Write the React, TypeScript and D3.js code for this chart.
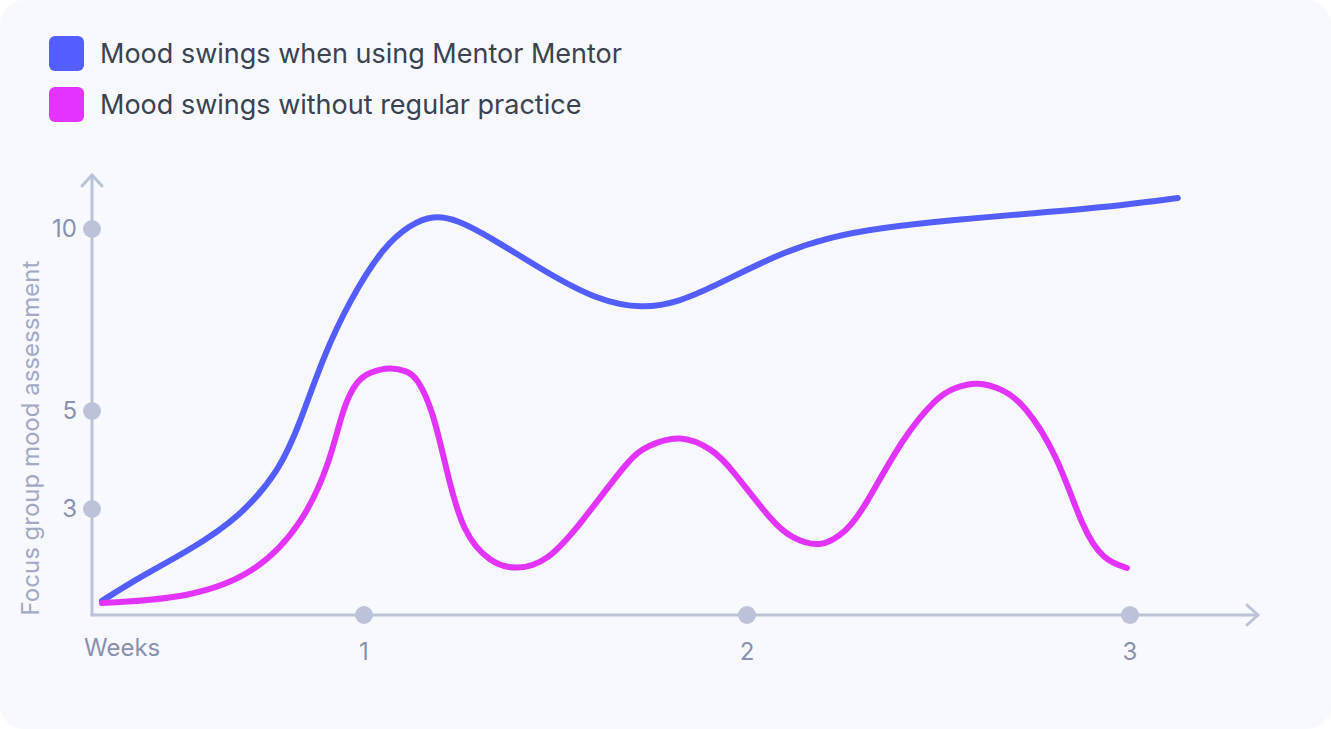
import React, { useRef, useEffect } from "react"
import * as d3 from "d3"

// weeks on the x axis, mood score on the y axis
const weekTicks = [1, 2, 3]
const moodTicks = [3, 5, 10]

const legendLabels = [
  "Mood swings when using Mentor Mentor",
  "Mood swings without regular practice",
]

// [week, mood]
const mentorSeries: [number, number][] = [
  [0.316, 0.4], [0.415, 1.08], [0.546, 1.84], [0.676, 2.77], [0.781, 3.8],
  [0.833, 4.76], [0.893, 6.48], [0.963, 8.05], [1.05, 9.51], [1.12, 10.12],
  [1.18, 10.38], [1.243, 10.26], [1.329, 9.78], [1.478, 8.79], [1.608, 8.05],
  [1.728, 7.8], [1.825, 8.01], [1.911, 8.41], [2.086, 9.34], [2.217, 9.78],
  [2.347, 10.03], [2.538, 10.25], [2.757, 10.44], [2.922, 10.58], [3.125, 10.85],
]

const noPracticeSeries: [number, number][] = [
  [0.316, 0.34], [0.546, 0.48], [0.721, 1.19], [0.841, 2.6], [0.911, 3.94],
  [0.945, 5.11], [0.982, 5.85], [1.016, 6.07], [1.068, 6.21], [1.112, 6.1],
  [1.138, 5.93], [1.18, 5.03], [1.217, 3.73], [1.258, 2.32], [1.329, 1.47],
  [1.399, 1.27], [1.478, 1.5], [1.564, 2.55], [1.695, 4.06], [1.739, 4.29],
  [1.825, 4.53], [1.911, 4.22], [1.956, 3.86], [2.068, 2.6], [2.112, 2.21],
  [2.191, 1.87], [2.261, 2.38], [2.303, 2.97], [2.407, 4.47], [2.496, 5.38],
  [2.538, 5.63], [2.601, 5.82], [2.668, 5.6], [2.721, 5.22], [2.809, 4.14],
  [2.877, 2.41], [2.93, 1.56], [2.992, 1.33],
]

const colors = ["#545efe", "#e234fc"]
const axisColor = "#bcc2da"
const labelColor = "#8a91b0"

const width = 1331
const height = 729

const App = () => {
  const ref = useRef<SVGSVGElement>(null)

  useEffect(() => {
    if (!ref.current) return
    const svg = d3.select(ref.current)
    svg.selectAll("*").remove()

    const font = "Inter, 'Noto Sans', sans-serif"

    // card
    svg
      .append("rect")
      .attr("width", width)
      .attr("height", height)
      .attr("rx", 24)
      .attr("fill", "#f7f9fe")

    const x = d3.scaleLinear().domain([1, 3]).range([364, 1130])
    // the axis is not evenly spaced, so a piecewise scale
    const y = d3.scaleLinear().domain([0, 3, 5, 10]).range([615, 509, 411, 229])

    const x0 = 92
    const y0 = 615
    const xEnd = 1258
    const yEnd = 175

    const axes = svg
      .append("g")
      .attr("stroke", axisColor)
      .attr("stroke-width", 3)
      .attr("stroke-linecap", "round")
      .attr("stroke-linejoin", "round")
      .attr("fill", "none")

    axes.append("path").attr("d", `M${x0},${y0}V${yEnd}`)
    axes.append("path").attr("d", `M${x0},${y0}H${xEnd}`)
    axes.append("path").attr("d", `M${x0 - 10},${yEnd + 11}L${x0},${yEnd}L${x0 + 10},${yEnd + 11}`)
    axes.append("path").attr("d", `M${xEnd - 11},${y0 - 10}L${xEnd},${y0}L${xEnd - 11},${y0 + 10}`)

    // tick dots
    svg
      .append("g")
      .selectAll("circle")
      .data(moodTicks)
      .join("circle")
      .attr("cx", x0)
      .attr("cy", d => y(d))
      .attr("r", 9)
      .attr("fill", axisColor)

    svg
      .append("g")
      .selectAll("circle")
      .data(weekTicks)
      .join("circle")
      .attr("cx", d => x(d))
      .attr("cy", y0)
      .attr("r", 9)
      .attr("fill", axisColor)

    // tick labels
    svg
      .append("g")
      .selectAll("text")
      .data(moodTicks)
      .join("text")
      .attr("x", 77)
      .attr("y", d => y(d))
      .attr("dy", "0.35em")
      .attr("text-anchor", "end")
      .attr("font-family", font)
      .attr("font-size", 24)
      .attr("fill", labelColor)
      .text(d => d)

    svg
      .append("g")
      .selectAll("text")
      .data(weekTicks)
      .join("text")
      .attr("x", d => x(d))
      .attr("y", 660)
      .attr("text-anchor", "middle")
      .attr("font-family", font)
      .attr("font-size", 24)
      .attr("fill", labelColor)
      .text(d => d)

    svg
      .append("text")
      .attr("x", 84)
      .attr("y", 656)
      .attr("font-family", font)
      .attr("font-size", 24)
      .attr("fill", labelColor)
      .text("Weeks")

    svg
      .append("text")
      .attr("transform", `translate(39,438) rotate(-90)`)
      .attr("text-anchor", "middle")
      .attr("font-family", font)
      .attr("font-size", 24)
      .attr("fill", "#a3a9c4")
      .text("Focus group mood assessment")

    // lines, smoothed with a B-spline through the read points
    const line = d3
      .line<[number, number]>()
      .x(d => x(d[0]))
      .y(d => y(d[1]))
      .curve(d3.curveBasis)

    ;[mentorSeries, noPracticeSeries].forEach((s, i) => {
      svg
        .append("path")
        .attr("d", line(s))
        .attr("fill", "none")
        .attr("stroke", colors[i])
        .attr("stroke-width", 6)
        .attr("stroke-linecap", "round")
        .attr("stroke-linejoin", "round")
    })

    // legend
    const legend = svg
      .append("g")
      .selectAll("g")
      .data(legendLabels)
      .join("g")
      .attr("transform", (d, i) => `translate(49,${36 + i * 51})`)

    legend
      .append("rect")
      .attr("width", 35)
      .attr("height", 35)
      .attr("rx", 6)
      .attr("fill", (d, i) => colors[i])

    legend
      .append("text")
      .attr("x", 51)
      .attr("y", 18)
      .attr("dy", "0.35em")
      .attr("font-family", font)
      .attr("font-size", 27)
      .attr("fill", "#3b4250")
      .text(d => d)
  }, [])

  return (
    <svg
      ref={ref}
      width={width}
      height={height}
      style={{ position: "absolute", left: 0, top: 0 }}
    />
  )
}

export default App
